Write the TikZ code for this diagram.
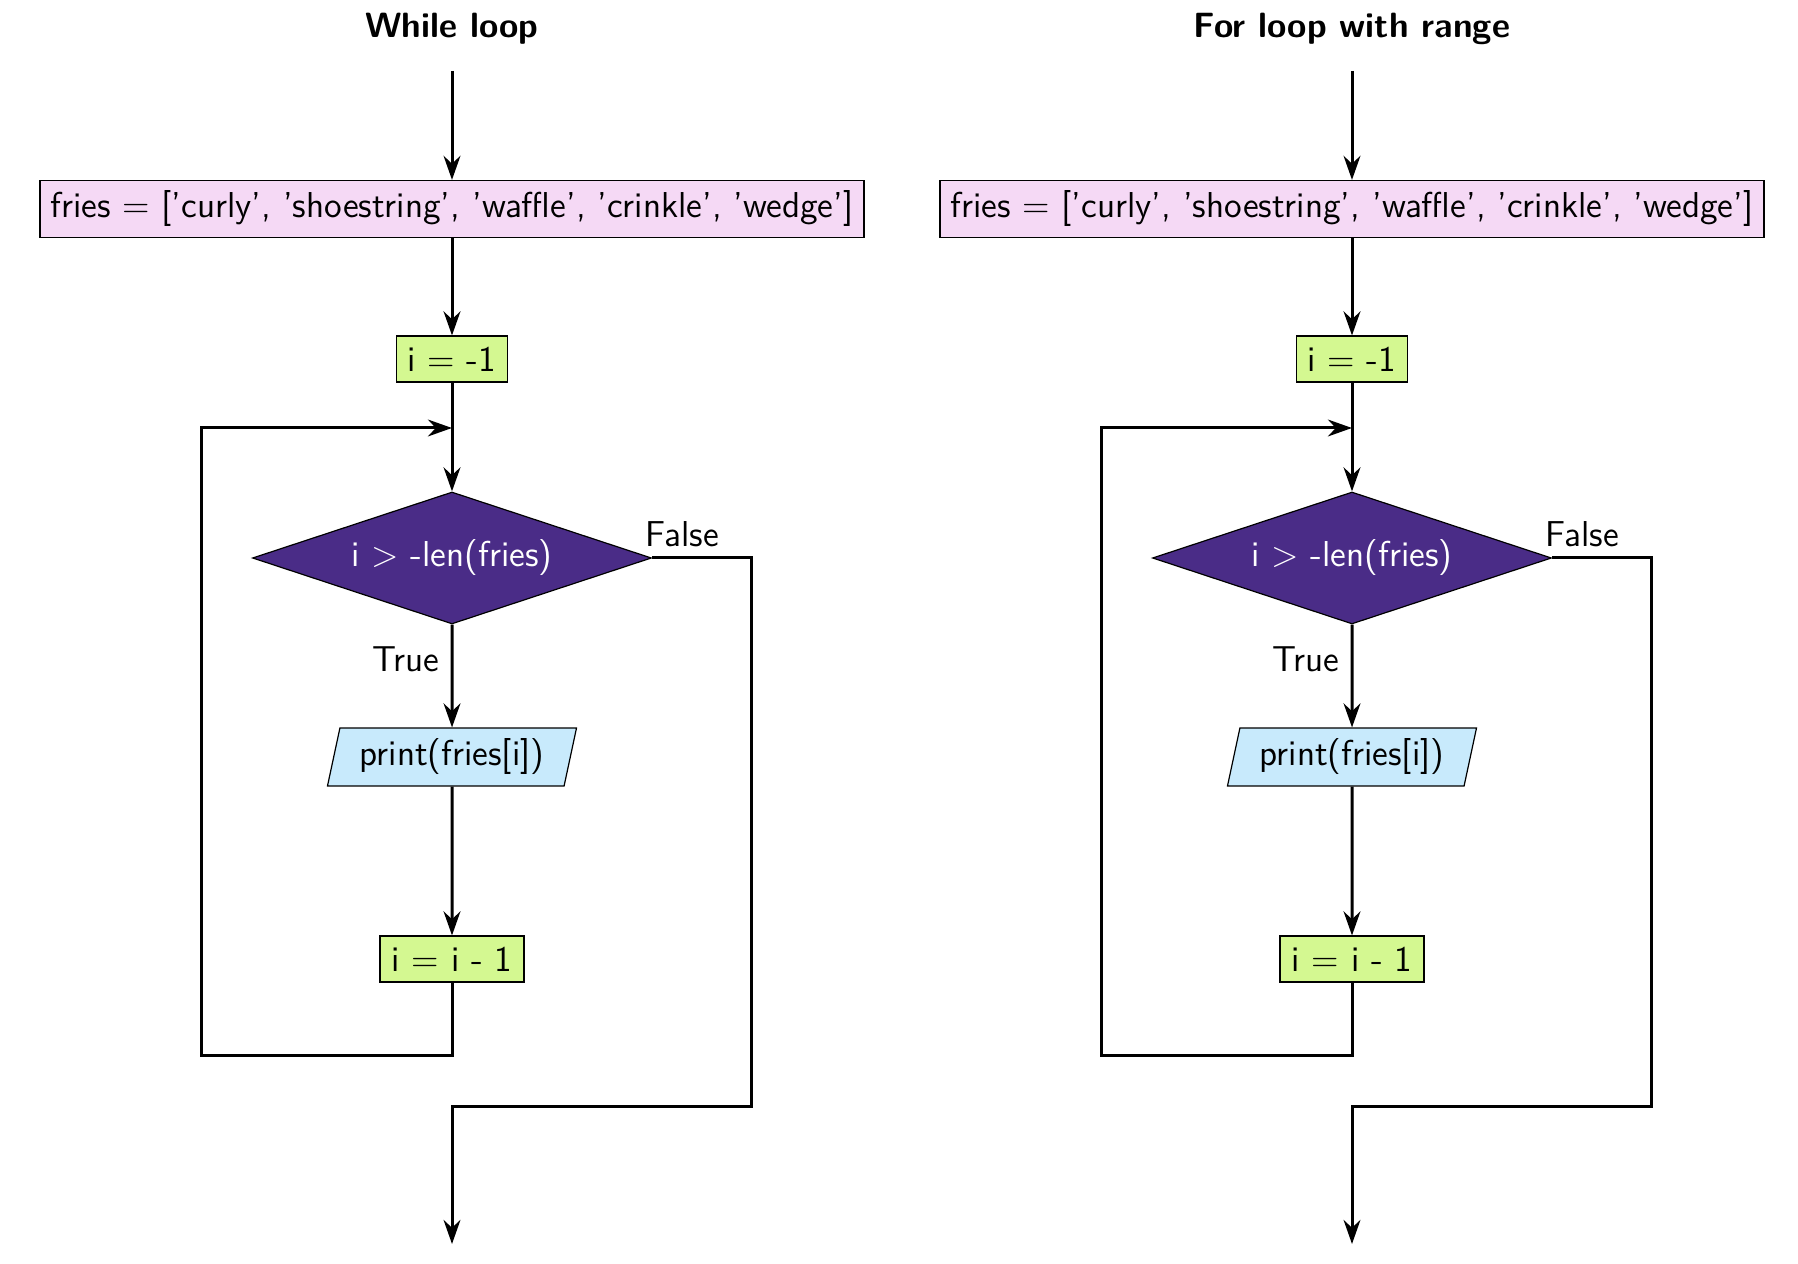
\documentclass[tikz,border=0pt]{standalone}
\usetikzlibrary{shapes.geometric,arrows.meta}
\definecolor{pinkc}{RGB}{245,217,245}
\definecolor{greenc}{RGB}{212,248,145}
\definecolor{bluec}{RGB}{200,234,252}
\definecolor{purplec}{RGB}{74,44,135}
\begin{document}
\begin{tikzpicture}[x=0.33333pt,y=-0.33333pt,font=\sffamily\fontsize{12}{14.4}\selectfont,
  flow/.style={line width=1pt,-{Stealth[length=8pt,width=5.6pt]}},
  plain/.style={line width=1pt},
  title/.style={font=\sffamily\bfseries\fontsize{11.7}{14}\selectfont},
  codebox/.style={draw,line width=0.4pt,fill=pinkc,inner sep=0pt,minimum width=274.7pt,minimum height=19pt},
  assign/.style={draw,line width=0.4pt,fill=greenc,inner sep=0pt,minimum height=15.3pt},
  decision/.style={diamond,draw,line width=0.4pt,fill=purplec,text=white,inner sep=0pt,shape aspect=3,minimum width=133pt,minimum height=44pt},
  io/.style={trapezium,trapezium left angle=71,trapezium right angle=109,trapezium stretches body,draw,line width=0.4pt,fill=bluec,inner sep=0pt,minimum width=83pt,minimum height=19.3pt},
  lbl/.style={inner sep=0pt}]
\useasboundingbox (0,0) rectangle (1798,1264);
\foreach \c/\xx/\ttl in {L/452/While loop,R/1352/For loop with range}{
  \node[title] (\c title) at (\xx,28.5) {\ttl};
  \coordinate (\c start) at (\xx,71);
  \node[codebox] (\c fries) at (\xx,209) {fries = ['curly', 'shoestring', 'waffle', 'crinkle', 'wedge']};
  \node[assign,minimum width=37pt] (\c init) at (\xx,359) {i = -1};
  \coordinate (\c j) at (\xx,428);
  \node[decision] (\c dia) at (\xx,558) {i > -len(fries)};
  \node[io] (\c print) at (\xx,757) {print(fries[i])};
  \node[assign,minimum width=48pt] (\c dec) at (\xx,959) {i = i - 1};
  \coordinate (\c lb) at ({\xx-251},1056);
  \coordinate (\c fb) at ({\xx+299},1107);
  \coordinate (\c end) at (\xx,1244);
  \node[lbl] (\c false) at ({\xx+230},534) {False};
  \node[lbl] (\c true) at ({\xx-46},659) {True};
  \draw[flow] (\c start) -- (\c fries);
  \draw[flow] (\c fries) -- (\c init);
  \draw[plain] (\c init) -- (\c j);
  \draw[flow] (\c j) -- (\c dia);
  \draw[flow] (\c dia) -- (\c print);
  \draw[flow] (\c print) -- (\c dec);
  \draw[flow] (\c dec.south) |- (\c lb) |- (\c j);
  \draw[flow] (\c dia.east) -| (\c fb) -| (\c end);
}
\end{tikzpicture}
\end{document}
